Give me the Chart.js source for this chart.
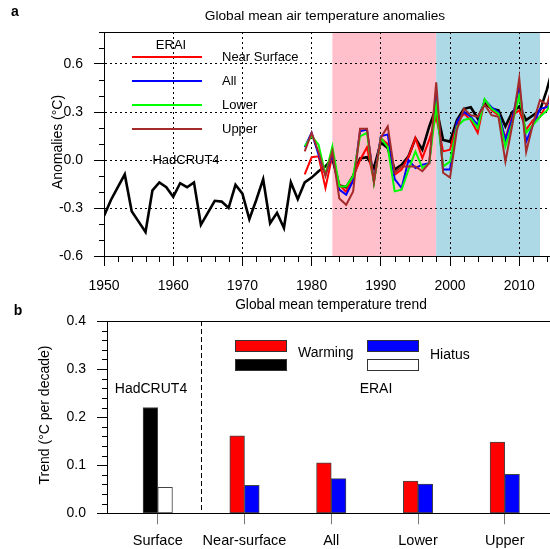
<!DOCTYPE html>
<html>
<head>
<meta charset="utf-8">
<script src="https://cdn.jsdelivr.net/npm/chart.js@4.4.1/dist/chart.umd.min.js"></script>
<style>
  body { margin:0; background:#fff; }
  #wrap { position:relative; width:550px; height:549px; overflow:hidden; }
  canvas { position:absolute; left:0; }
  #top { top:0; }
  #bot { top:292px; }
</style>
</head>
<body>
<div id="wrap">
  <canvas id="top" width="550" height="292"></canvas>
  <canvas id="bot" width="550" height="257"></canvas>
</div>
<script>
// Panel a : annual anomalies
const hadYears = [1950,1951,1952,1953,1954,1955,1956,1957,1958,1959,
                  1960,1961,1962,1963,1964,1965,1966,1967,1968,1969,
                  1970,1971,1972,1973,1974,1975,1976,1977,1978,1979,
                  1980,1981,1982,1983,1984,1985,1986,1987,1988,1989,
                  1990,1991,1992,1993,1994,1995,1996,1997,1998,1999,
                  2000,2001,2002,2003,2004,2005,2006,2007,2008,2009,
                  2010,2011,2012,2013,2014,2015];
const hadcrut4 = [-0.35,-0.25,-0.17,-0.09,-0.32,-0.385,-0.45,-0.19,-0.14,-0.17,
                  -0.23,-0.145,-0.17,-0.14,-0.405,-0.33,-0.255,-0.26,-0.30,-0.155,
                  -0.21,-0.37,-0.25,-0.12,-0.395,-0.33,-0.425,-0.14,-0.245,-0.14,
                  -0.11,-0.07,-0.04,0.01,-0.16,-0.17,-0.10,0.01,0.017,-0.05,
                  0.11,0.075,-0.06,-0.03,0.023,0.135,0.065,0.21,0.33,0.125,
                  0.115,0.25,0.32,0.33,0.26,0.355,0.32,0.31,0.21,0.30,
                  0.335,0.25,0.28,0.31,0.44,0.6];

const eraYears = [1979,1980,1981,1982,1983,1984,1985,1986,1987,1988,1989,
                  1990,1991,1992,1993,1994,1995,1996,1997,1998,1999,
                  2000,2001,2002,2003,2004,2005,2006,2007,2008,2009,
                  2010,2011,2012,2013,2014,2015];
const nearSurface = [-0.09,0.017,0.023,-0.175,0.03,-0.154,-0.2,-0.10,0.0,0.08,-0.133,
                     0.135,0.10,-0.092,-0.06,0.02,0.137,0.012,0.127,0.27,0.054,
                     0.065,0.23,0.29,0.25,0.17,0.375,0.31,0.28,0.135,0.28,
                     0.31,0.19,0.25,0.27,0.35,0.42];
const allLevels   = [0.08,0.17,0.033,-0.09,0.033,-0.185,-0.217,-0.13,0.18,0.19,-0.133,
                     0.148,0.16,-0.12,-0.175,0.0,-0.05,-0.03,-0.02,0.41,-0.06,
                     -0.06,0.24,0.30,0.27,0.22,0.375,0.33,0.30,0.125,0.26,
                     0.46,0.115,0.22,0.32,0.33,0.48];
const lowerLevels = [0.085,0.15,0.096,-0.09,0.085,-0.165,-0.165,-0.10,0.148,0.17,-0.144,
                     0.137,0.08,-0.196,-0.185,-0.06,0.054,-0.05,-0.02,0.34,-0.04,
                     -0.01,0.21,0.25,0.26,0.20,0.38,0.32,0.29,0.085,0.23,
                     0.40,0.17,0.22,0.27,0.31,0.39];
const upperLevels = [0.054,0.17,0.05,-0.10,0.054,-0.24,-0.28,-0.196,0.196,0.196,-0.137,
                     0.14,0.21,-0.08,-0.04,-0.04,-0.04,-0.07,-0.02,0.485,-0.08,
                     -0.11,0.19,0.32,0.28,0.27,0.345,0.28,0.27,-0.01,0.22,
                     0.51,0.05,0.23,0.375,0.345,0.5];

const warmingPeriod = [1983, 1998];
const hiatusPeriod  = [1998, 2013];

// Panel b : trends (°C per decade)
const trendCats    = ['Surface', 'Near-surface', 'All', 'Lower', 'Upper'];
const warmingTrend = [0.22, 0.161, 0.105, 0.067, 0.148];
const hiatusTrend  = [0.054, 0.058, 0.072, 0.061, 0.081];

const FAMILY = "'Liberation Sans', Arial, sans-serif";
Chart.defaults.font.family = FAMILY;
Chart.defaults.color = '#000';

const pts = (xs, ys) => ys.map((v, i) => ({ x: xs[i], y: v }));

function txt(ctx, s, x, y, size, align, bold, rotate) {
  ctx.save();
  ctx.font = (bold ? 'bold ' : '') + size + 'px ' + FAMILY;
  ctx.fillStyle = '#000';
  ctx.textAlign = align || 'center';
  ctx.textBaseline = 'middle';
  if (rotate) { ctx.translate(x, y); ctx.rotate(-Math.PI / 2); ctx.fillText(s, 0, 0); }
  else ctx.fillText(s, x, y);
  ctx.restore();
}

function minorTicks(chart, axis, isMajor, len) {
  const { ctx, chartArea: a } = chart;
  const sc = chart.scales[axis];
  ctx.save();
  ctx.strokeStyle = '#000'; ctx.lineWidth = 1;
  ctx.beginPath();
  sc.ticks.forEach(t => {
    if (isMajor(t.value)) return;
    const p = Math.round(sc.getPixelForValue(t.value)) + 0.5;
    if (axis === 'y') { ctx.moveTo(a.left - len, p); ctx.lineTo(a.left, p); }
    else { ctx.moveTo(p, a.bottom); ctx.lineTo(p, a.bottom + len); }
  });
  ctx.stroke();
  ctx.restore();
}

function topBorder(chart) {
  const { ctx, chartArea: a } = chart;
  ctx.save();
  ctx.strokeStyle = '#000'; ctx.lineWidth = 1;
  ctx.beginPath();
  ctx.moveTo(a.left, Math.round(a.top) + 0.5);
  ctx.lineTo(chart.width, Math.round(a.top) + 0.5);
  ctx.stroke();
  ctx.restore();
}

// ---- panel a ----
const majX = v => v % 10 === 0;
const majY = v => Math.round(v * 10) % 3 === 0;

const topDecor = {
  id: 'topDecor',
  beforeDraw(chart) {
    const { ctx, chartArea: a, scales: { x } } = chart;
    ctx.save();
    ctx.fillStyle = '#ffc0cb';
    let x0 = x.getPixelForValue(warmingPeriod[0]), x1 = x.getPixelForValue(warmingPeriod[1]);
    ctx.fillRect(x0, a.top, x1 - x0, a.bottom - a.top);
    ctx.fillStyle = '#add8e6';
    x0 = x.getPixelForValue(hiatusPeriod[0]); x1 = x.getPixelForValue(hiatusPeriod[1]);
    ctx.fillRect(x0, a.top, x1 - x0, a.bottom - a.top);
    ctx.restore();
  },
  afterDraw(chart) {
    const { ctx } = chart;
    topBorder(chart);
    minorTicks(chart, 'y', majY, 5);
    minorTicks(chart, 'x', majX, 6);
    txt(ctx, 'a', 15, 12, 14, 'center', true);
    txt(ctx, 'Global mean air temperature anomalies', 325, 16, 13.7);
    txt(ctx, 'Anomalies (\u00B0C)', 58, 142, 14, 'center', false, true);
    // legend
    txt(ctx, 'ERAI', 171, 45, 13);
    chart.data.datasets.slice(1).forEach((d, i) => {
      const y = 57 + i * 24;
      ctx.save();
      ctx.strokeStyle = d.borderColor; ctx.lineWidth = 2;
      ctx.beginPath(); ctx.moveTo(132, y); ctx.lineTo(202, y); ctx.stroke();
      ctx.restore();
      txt(ctx, d.label, 222, y, 13, 'left');
    });
    txt(ctx, 'HadCRUT4', 186, 160, 13);
  }
};

new Chart(document.getElementById('top'), {
  type: 'line',
  data: {
    datasets: [
      { label: 'HadCRUT4',     data: pts(hadYears, hadcrut4),    borderColor: '#000000', borderWidth: 2.6, order: 5 },
      { label: 'Near Surface', data: pts(eraYears, nearSurface), borderColor: '#ff0000', borderWidth: 2, order: 4 },
      { label: 'All',          data: pts(eraYears, allLevels),   borderColor: '#0000ff', borderWidth: 2, order: 3 },
      { label: 'Lower',        data: pts(eraYears, lowerLevels), borderColor: '#00ff00', borderWidth: 2, order: 2 },
      { label: 'Upper',        data: pts(eraYears, upperLevels), borderColor: '#a52a2a', borderWidth: 2, order: 1 }
    ]
  },
  options: {
    responsive: false, animation: false, devicePixelRatio: 1,
    layout: { padding: { top: 32, right: 1, left: 0, bottom: 0 } },
    elements: { point: { radius: 0 }, line: { tension: 0, fill: false } },
    plugins: { legend: { display: false }, tooltip: { enabled: false } },
    scales: {
      x: {
        type: 'linear', min: 1950, max: 2014.3,
        afterFit: s => { s.height = 36; s.paddingLeft = 0; s.paddingRight = 0; },
        ticks: { stepSize: 2, includeBounds: false, autoSkip: false, maxRotation: 0, padding: 11.5,
                 font: { size: 14 }, color: '#000', callback: v => majX(v) ? String(v) : '' },
        grid: { color: c => (c.tick && majX(c.tick.value)) ? '#000' : 'transparent',
                tickColor: c => (c.tick && majX(c.tick.value)) ? '#000' : 'transparent',
                tickLength: 10, lineWidth: 1 },
        border: { color: '#000', width: 1, dash: [2, 3] }
      },
      y: {
        min: -0.6, max: 0.8,
        afterFit: s => { s.width = 104; },
        ticks: { stepSize: 0.1, includeBounds: false, autoSkip: false, padding: 11,
                 font: { size: 14 }, color: '#000', callback: v => majY(v) ? v.toFixed(1) : '' },
        grid: { color: c => (c.tick && majY(c.tick.value)) ? '#000' : 'transparent',
                tickColor: c => (c.tick && majY(c.tick.value)) ? '#000' : 'transparent',
                tickLength: 10, lineWidth: 1 },
        border: { color: '#000', width: 1, dash: [2, 3] }
      }
    }
  },
  plugins: [topDecor]
});

// ---- panel b ----
const majB = v => Math.round(v * 100) % 10 === 0;

const botDecor = {
  id: 'botDecor',
  afterDraw(chart) {
    const { ctx, chartArea: a, scales: { x } } = chart;
    topBorder(chart);
    minorTicks(chart, 'y', majB, 5);
    // separator between HadCRUT4 and ERAI
    const sx = Math.round(x.getPixelForValue(0.5)) + 0.5;
    ctx.save();
    ctx.strokeStyle = '#000'; ctx.lineWidth = 1; ctx.setLineDash([5, 3]);
    ctx.beginPath(); ctx.moveTo(sx, a.top); ctx.lineTo(sx, a.bottom); ctx.stroke();
    ctx.restore();

    txt(ctx, 'b', 18, 19.5, 14, 'center', true);
    txt(ctx, 'Global mean temperature trend', 331, 13, 13.8);
    txt(ctx, 'Trend (\u00B0C per decade)', 45, 123, 14, 'center', false, true);
    txt(ctx, 'HadCRUT4', 151, 97, 14);
    txt(ctx, 'ERAI', 376, 97, 14);

    // legend boxes
    const box = (bx, by, fill) => {
      ctx.save();
      ctx.fillStyle = fill; ctx.fillRect(bx, by, 52, 12);
      ctx.strokeStyle = '#333'; ctx.lineWidth = 1; ctx.strokeRect(bx + 0.5, by + 0.5, 51, 11);
      ctx.restore();
    };
    box(235, 48, '#ff0000');
    box(235, 67, '#000000');
    box(367, 48, '#0000ff');
    box(367, 67, '#ffffff');
    txt(ctx, 'Warming', 298, 61.5, 14, 'left');
    txt(ctx, 'Hiatus', 430, 63, 14, 'left');
  }
};

new Chart(document.getElementById('bot'), {
  type: 'bar',
  data: {
    datasets: [
      { label: 'Warming', data: trendCats.map((c, i) => ({ x: i, y: warmingTrend[i] })),
        backgroundColor: trendCats.map((c, i) => i === 0 ? '#000000' : '#ff0000') },
      { label: 'Hiatus', data: trendCats.map((c, i) => ({ x: i, y: hiatusTrend[i] })),
        backgroundColor: trendCats.map((c, i) => i === 0 ? '#ffffff' : '#0000ff') }
    ]
  },
  options: {
    responsive: false, animation: false, devicePixelRatio: 1,
    layout: { padding: { top: 29, right: 1, left: 0, bottom: 0 } },
    datasets: { bar: { barThickness: 14.7, borderColor: '#444', borderWidth: 1, borderSkipped: false } },
    plugins: { legend: { display: false }, tooltip: { enabled: false } },
    scales: {
      x: {
        type: 'linear', min: -0.585, max: 4.51, offset: false,
        afterFit: s => { s.height = 35.7; s.paddingLeft = 0; s.paddingRight = 0; },
        ticks: { stepSize: 1, includeBounds: false, autoSkip: false, maxRotation: 0, padding: 8,
                 font: { size: 14.5 }, color: '#000', callback: v => trendCats[v] || '' },
        grid: { offset: false, drawOnChartArea: false, tickLength: 11, color: '#777', tickColor: '#777' },
        border: { color: '#000', width: 1 }
      },
      y: {
        min: 0, max: 0.4,
        afterFit: s => { s.width = 107; },
        ticks: { stepSize: 0.02, includeBounds: false, autoSkip: false, padding: 11,
                 font: { size: 14 }, color: '#000', callback: v => majB(v) ? v.toFixed(1) : '' },
        grid: { drawOnChartArea: false, tickLength: 10,
                tickColor: c => (c.tick && majB(c.tick.value)) ? '#000' : 'transparent' },
        border: { color: '#000', width: 1 }
      }
    }
  },
  plugins: [botDecor]
});
</script>
</body>
</html>
